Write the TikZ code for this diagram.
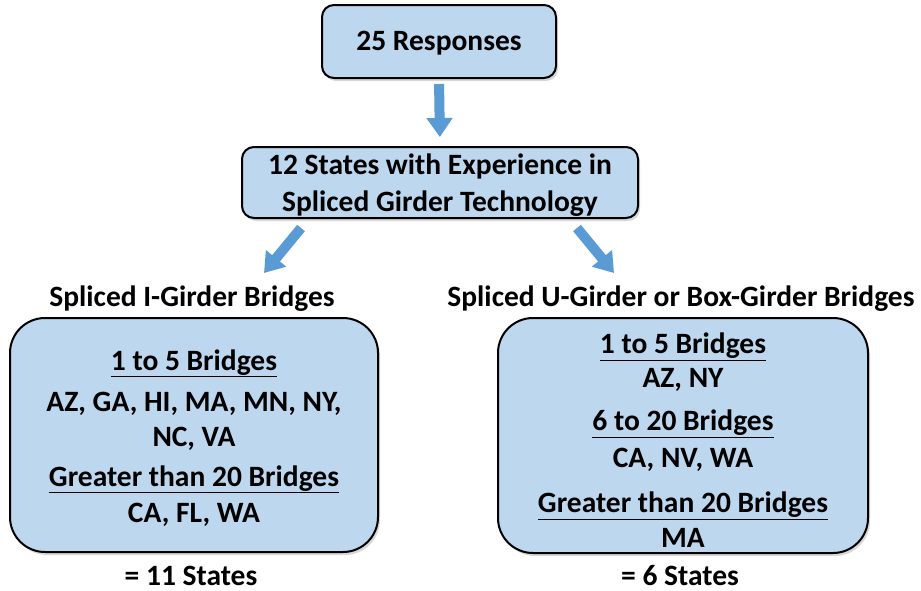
\documentclass[tikz,border=0pt]{standalone}
\usepackage{fontspec}
\setmainfont{Carlito}
\usetikzlibrary{arrows.meta,shadows}
\definecolor{boxblue}{RGB}{189,215,238}
\definecolor{arrowblue}{RGB}{91,155,213}
\tikzset{
  box/.style={draw=black, line width=2pt, fill=boxblue, align=center,
    font=\fontsize{29.5}{35}\selectfont\bfseries, inner sep=0pt,
    drop shadow={shadow xshift=2pt, shadow yshift=-3pt, opacity=0.3}},
  lbl/.style={font=\fontsize{29.5}{35}\selectfont\bfseries, inner sep=0pt},
  bluearrow/.style={draw=arrowblue, line width=10pt,
    -{Triangle[width=25pt,length=19pt]}}
}
\begin{document}
\begin{tikzpicture}[x=1pt,y=-1pt]
\useasboundingbox (0,0) rectangle (921,590);
\fill[white] (0,0) rectangle (921,590);

\node[box, rounded corners=12pt, minimum width=234pt, minimum height=73pt] (top) at (439,41.5) {\rule{0pt}{23pt}25 Responses};
\node[box, rounded corners=12pt, minimum width=396pt, minimum height=71pt] (mid) at (440,182.5)
  {\rule{0pt}{26pt}12 States with Experience in\\[2pt]Spliced Girder Technology};

\node[lbl, anchor=base] (ltitle) at (192,306) {Spliced I-Girder Bridges};
\node[lbl, anchor=base] (rtitle) at (681,306) {Spliced U-Girder or Box-Girder Bridges};

\node[box, rounded corners=35pt, minimum width=368pt, minimum height=234pt] (lbox) at (194,435)
  {\rule{0pt}{26pt}\underline{1 to 5 Bridges}\\[6pt]AZ, GA, HI, MA, MN, NY,\\NC, VA\\[5pt]
   \underline{Greater than 20 Bridges}\\[1pt]CA, FL, WA};
\node[box, rounded corners=35pt, minimum width=370pt, minimum height=235pt] (rbox) at (683,435.5)
  {\rule{0pt}{30pt}\underline{1 to 5 Bridges}\\[-1pt]AZ, NY\\[8pt]
   \underline{6 to 20 Bridges}\\[2pt]CA, NV, WA\\[10pt]
   \underline{Greater than 20 Bridges}\\MA};

\node[lbl, anchor=base] (lcount) at (191,585) {= 11 States};
\node[lbl, anchor=base] (rcount) at (680,585) {= 6 States};

\coordinate (ls) at (301,228);
\coordinate (le) at (264,273);
\coordinate (rs) at (577,228);
\coordinate (re) at (614,273);

\draw[bluearrow, shorten <=5pt, shorten >=9pt] (top.south) -- (mid.north);
\draw[bluearrow] (ls) -- (le);
\draw[bluearrow] (rs) -- (re);
\end{tikzpicture}
\end{document}
